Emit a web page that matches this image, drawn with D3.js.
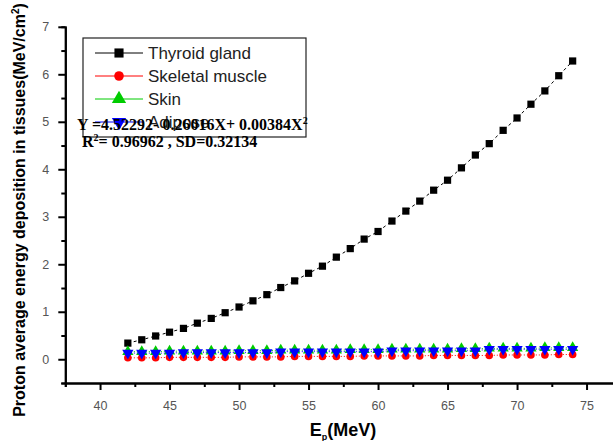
<!DOCTYPE html>
<html>
<head>
<meta charset="utf-8">
<script src="https://cdn.jsdelivr.net/npm/d3@7"></script>
<style>
  body { margin: 0; background: #fff; }
  svg { display: block; font-family: "Liberation Sans", Arial, sans-serif; }
</style>
</head>
<body>
<div id="chart"></div>
<script>
// Proton energy (MeV)
var energy = [42, 43, 44, 45, 46, 47, 48, 49, 50, 51, 52, 53, 54, 55, 56, 57, 58,
              59, 60, 61, 62, 63, 64, 65, 66, 67, 68, 69, 70, 71, 72, 73, 74];

// average energy deposition (MeV/cm2)
var thyroid = [0.34, 0.41, 0.49, 0.57, 0.65, 0.76, 0.86, 0.98, 1.10, 1.23, 1.36,
               1.51, 1.65, 1.81, 1.96, 2.15, 2.33, 2.53, 2.69, 2.91, 3.12, 3.33,
               3.56, 3.77, 4.03, 4.30, 4.54, 4.82, 5.08, 5.37, 5.65, 5.97, 6.28];
var muscle  = [0.03, 0.03, 0.03, 0.04, 0.04, 0.04, 0.04, 0.04, 0.05, 0.05, 0.05,
               0.05, 0.06, 0.06, 0.06, 0.06, 0.06, 0.07, 0.07, 0.07, 0.07, 0.07,
               0.08, 0.08, 0.08, 0.08, 0.08, 0.09, 0.09, 0.09, 0.09, 0.10, 0.10];
var skin    = [0.16, 0.16, 0.16, 0.17, 0.17, 0.17, 0.17, 0.17, 0.18, 0.18, 0.18,
               0.19, 0.19, 0.19, 0.19, 0.19, 0.20, 0.20, 0.20, 0.21, 0.21, 0.21,
               0.21, 0.21, 0.22, 0.22, 0.23, 0.23, 0.23, 0.23, 0.24, 0.24, 0.24];
var adipose = [0.13, 0.13, 0.13, 0.13, 0.14, 0.14, 0.14, 0.14, 0.14, 0.14, 0.14,
               0.16, 0.16, 0.16, 0.16, 0.16, 0.16, 0.16, 0.16, 0.18, 0.18, 0.18,
               0.18, 0.18, 0.18, 0.18, 0.21, 0.21, 0.21, 0.21, 0.21, 0.21, 0.21];

var seriesNames = ["Thyroid gland", "Skeletal muscle", "Skin", "Adipose"];
var xMajorTicks = [40, 45, 50, 55, 60, 65, 70, 75];
var yMajorTicks = [0, 1, 2, 3, 4, 5, 6, 7];

var series = [
    { name: seriesNames[0], values: thyroid, color: "#000000", symbol: d3.symbolSquare,   size: 52, rot: 0,   dash: "3,3" },
    { name: seriesNames[1], values: muscle,  color: "#ff0000", symbol: d3.symbolCircle,   size: 45, rot: 0,   dash: "1,2" },
    { name: seriesNames[2], values: skin,    color: "#00cc00", symbol: d3.symbolTriangle, size: 55, rot: 0,   dash: "1,2" },
    { name: seriesNames[3], values: adipose, color: "#0000ff", symbol: d3.symbolTriangle, size: 55, rot: 180, dash: "1,2" }
];

var width = 613, height = 441;

var svg = d3.select("#chart")
    .append("svg")
    .attr("width", width)
    .attr("height", height);

// scales
var x = d3.scaleLinear().domain([37.5, 77.5]).range([65.3, 621.3]);
var y = d3.scaleLinear().domain([-0.5, 7]).range([383, 26.8]);

// data lines + markers
series.forEach(function(s) {
    var pts = energy.map(function(e, i) { return [e, s.values[i]]; });
    svg.append("path")
        .datum(pts)
        .attr("fill", "none")
        .attr("stroke", s.color)
        .attr("stroke-width", 1)
        .attr("stroke-dasharray", s.dash)
        .attr("d", d3.line().x(function(d) { return x(d[0]); }).y(function(d) { return y(d[1]); }));

    svg.selectAll(null)
        .data(pts)
        .enter().append("path")
        .attr("d", d3.symbol().type(s.symbol).size(s.size))
        .attr("fill", s.color)
        .attr("transform", function(d) {
            return "translate(" + x(d[0]) + "," + y(d[1]) + ") rotate(" + s.rot + ")";
        });
});

// x axis (major + minor)
var gx = svg.append("g")
    .attr("transform", "translate(0," + y(-0.5) + ")");
gx.call(d3.axisBottom(x).tickValues(xMajorTicks).tickSize(7).tickSizeOuter(0).tickPadding(11));
gx.append("g").call(d3.axisBottom(x).tickValues([37.5, 42.5, 47.5, 52.5, 57.5, 62.5, 67.5, 72.5]).tickSize(4).tickFormat(""));

// y axis (major + minor)
var gy = svg.append("g")
    .attr("transform", "translate(" + x(37.5) + ",0)");
gy.call(d3.axisLeft(y).tickValues(yMajorTicks).tickSize(7).tickSizeOuter(0).tickPadding(9));
gy.append("g").call(d3.axisLeft(y).tickValues([-0.5, 0.5, 1.5, 2.5, 3.5, 4.5, 5.5, 6.5]).tickSize(4).tickFormat(""));

svg.selectAll(".domain").attr("stroke", "#000").attr("stroke-width", 2);
svg.selectAll(".tick line").attr("stroke", "#000").attr("stroke-width", 2);
svg.selectAll(".tick text")
    .attr("fill", "#555")
    .style("font-size", "12.5px")
    .style("font-family", "'Liberation Sans', Arial, sans-serif");

// axis titles
var xt = svg.append("text")
    .attr("x", 343)
    .attr("y", 436)
    .attr("text-anchor", "middle")
    .style("font-size", "18px")
    .style("font-weight", "bold");
xt.append("tspan").text("E");
xt.append("tspan").attr("dy", 4).style("font-size", "9px").text("p");
xt.append("tspan").attr("dy", -4).text("(MeV)");

var yt = svg.append("text")
    .attr("transform", "translate(25,210) rotate(-90)")
    .attr("text-anchor", "middle")
    .style("font-size", "16px")
    .style("font-weight", "bold");
yt.append("tspan").text("Proton average energy deposition in tissues(MeV/cm");
yt.append("tspan").attr("dy", -6).style("font-size", "10px").text("2");
yt.append("tspan").attr("dy", 6).text(")");

// legend
var legend = svg.append("g");
legend.append("rect")
    .attr("x", 83).attr("y", 38)
    .attr("width", 223).attr("height", 99)
    .attr("fill", "#fff")
    .attr("stroke", "#222")
    .attr("stroke-width", 1.2);

series.forEach(function(s, i) {
    var ly = 53 + i * 23;
    legend.append("line")
        .attr("x1", 95).attr("x2", 143)
        .attr("y1", ly).attr("y2", ly)
        .attr("stroke", s.color).attr("stroke-width", 1);
    legend.append("path")
        .attr("d", d3.symbol().type(s.symbol).size(s.size * 1.6))
        .attr("fill", s.color)
        .attr("transform", "translate(119," + ly + ") rotate(" + s.rot + ")");
    legend.append("text")
        .attr("x", 148)
        .attr("y", ly + 6)
        .attr("fill", "#222")
        .style("font-size", "17px")
        .text(s.name);
});

// fit equation overlaid on the legend
var eq = svg.append("text")
    .attr("x", 77).attr("y", 130)
    .style("font-family", "'Liberation Serif', 'Times New Roman', serif")
    .style("font-weight", "bold")
    .style("font-size", "16px");
eq.append("tspan").text("Y =4.52292- 0.26016X+ 0.00384X");
eq.append("tspan").attr("dy", -6).style("font-size", "10px").text("2");

var r2 = svg.append("text")
    .attr("x", 82).attr("y", 147)
    .style("font-family", "'Liberation Serif', 'Times New Roman', serif")
    .style("font-weight", "bold")
    .style("font-size", "16px");
r2.append("tspan").text("R");
r2.append("tspan").attr("dy", -6).style("font-size", "10px").text("2");
r2.append("tspan").attr("dy", 6).text("= 0.96962 , SD=0.32134");
</script>
</body>
</html>
